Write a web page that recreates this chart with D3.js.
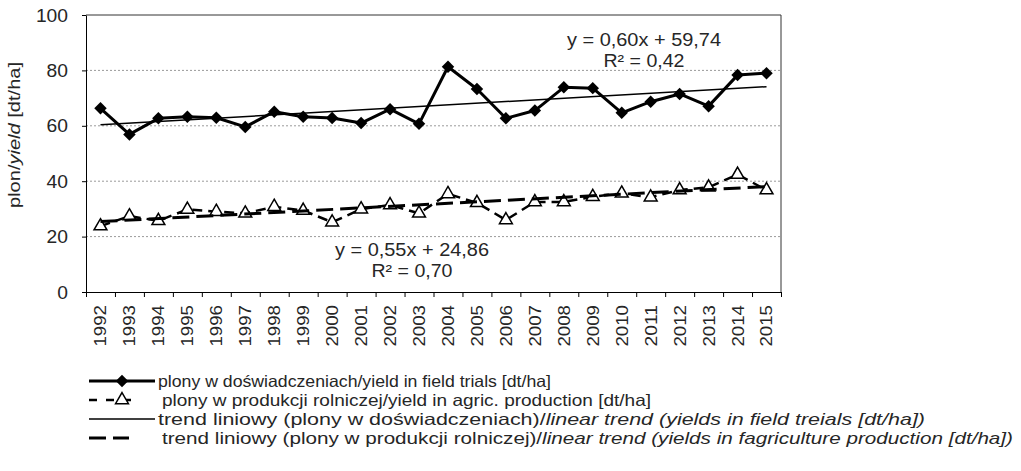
<!DOCTYPE html>
<html>
<head>
<meta charset="utf-8">
<script src="https://cdn.jsdelivr.net/npm/d3@7"></script>
<style>
  body { margin: 0; background: #fff; }
  svg { display: block; font-family: "Liberation Sans", Arial, sans-serif; }
</style>
</head>
<body>
<div id="chart"></div>
<script>
var years = ['1992', '1993', '1994', '1995', '1996', '1997', '1998', '1999', '2000', '2001', '2002', '2003',
    '2004', '2005', '2006', '2007', '2008', '2009', '2010', '2011', '2012', '2013', '2014', '2015'];
var fieldTrials = [66.3, 56.9, 62.7, 63.3, 62.9, 59.6, 65.1, 63.3, 62.8, 61.0, 66.0, 60.7,
    81.3, 73.3, 62.7, 65.5, 73.9, 73.6, 64.7, 68.7, 71.5, 67.1, 78.3, 79.0];
var agricProduction = [23.8, 27.4, 25.7, 29.8, 29.0, 28.4, 30.8, 29.4, 25.2, 29.9, 31.4, 28.4,
    35.4, 32.2, 26.0, 32.5, 32.5, 34.4, 35.6, 34.2, 36.8, 37.8, 42.4, 36.8];
var trendSlope = [0.60, 0.55];
var trendIntercept = [59.74, 24.86];
var equationLabels = [['y = 0,60x + 59,74', 'R\u00b2 = 0,42'], ['y = 0,55x + 24,86', 'R\u00b2 = 0,70']];
var yTicks = [0, 20, 40, 60, 80, 100];
var legendLabels = [
    [['plony w doświadczeniach/yield in field trials [dt/ha]', false]],
    [['plony w produkcji rolniczej/yield in agric. production [dt/ha]', false]],
    [['trend liniowy (plony w doświadczeniach)/', false], ['linear trend (yields in field treials [dt/ha])', true]],
    [['trend liniowy (plony w produkcji rolniczej)/', false], ['linear trend (yields in fagriculture production [dt/ha])', true]]
];

var width = 1021, height = 471,
    margin = {top: 15, left: 86, right: 240, bottom: 179};

var x = d3.scaleBand().domain(years).range([margin.left, width - margin.right]);
var xb = d3.scaleLinear().domain([0, years.length]).range([margin.left, width - margin.right]);
var y = d3.scaleLinear().domain([0, 100]).range([height - margin.bottom, margin.top]);
var cx = function(i) { return x(years[i]) + x.bandwidth() / 2; };

var svg = d3.select('#chart').append('svg')
    .attr('width', width)
    .attr('height', height)
    .attr('fill', '#262626');

// gridlines
svg.append('g')
    .selectAll('line')
    .data(yTicks.filter(function(d) { return d > 0 && d < 100; }))
    .join('line')
        .attr('x1', margin.left).attr('x2', width - margin.right)
        .attr('y1', function(d) { return y(d); }).attr('y2', function(d) { return y(d); })
        .attr('stroke', '#9a9a9a')
        .attr('stroke-dasharray', '2,2');

// plot border (top + right)
svg.append('path')
    .attr('d', 'M' + margin.left + ',' + y(100) + 'H' + (width - margin.right) + 'V' + y(0))
    .attr('fill', 'none')
    .attr('stroke', '#333');

// Y axis
var yAxis = svg.append('g')
    .attr('transform', 'translate(' + margin.left + ',0)')
    .call(d3.axisLeft(y).tickValues(yTicks).tickSize(4).tickPadding(14).tickSizeOuter(0));
yAxis.select('.domain').attr('stroke', '#000');
yAxis.selectAll('text')
    .attr('font-size', 19)
    .attr('fill', '#262626')
    .attr('textLength', function(d) { return String(d).length * 10.7; })
    .attr('lengthAdjust', 'spacingAndGlyphs');

// X axis tick marks on category boundaries
var xTickAxis = svg.append('g')
    .attr('transform', 'translate(0,' + y(0) + ')')
    .call(d3.axisBottom(xb).tickValues(d3.range(years.length + 1)).tickFormat('').tickSize(5).tickSizeOuter(0));
xTickAxis.select('.domain').attr('stroke', '#000');

var xAxis = svg.append('g')
    .attr('transform', 'translate(0,' + y(0) + ')')
    .call(d3.axisBottom(x).tickSize(0));
xAxis.select('.domain').remove();
xAxis.selectAll('text')
    .attr('transform', 'rotate(-90)')
    .attr('x', -13)
    .attr('y', 0)
    .attr('dy', '.35em')
    .attr('text-anchor', 'end')
    .attr('font-size', 17)
    .attr('fill', '#262626')
    .attr('textLength', 41.5)
    .attr('lengthAdjust', 'spacingAndGlyphs');

// y axis title
var yTitle = svg.append('text')
    .attr('transform', 'translate(20,135) rotate(-90)')
    .attr('text-anchor', 'middle')
    .attr('font-size', 17)
    .attr('textLength', 146)
    .attr('lengthAdjust', 'spacingAndGlyphs');
yTitle.append('tspan').text('plon/');
yTitle.append('tspan').attr('font-style', 'italic').text('yield');
yTitle.append('tspan').text(' [dt/ha]');

var line = d3.line()
    .x(function(d, i) { return cx(i); })
    .y(function(d) { return y(d); });

// series lines
svg.append('path')
    .attr('d', line(fieldTrials))
    .attr('fill', 'none')
    .attr('stroke', '#000')
    .attr('stroke-width', 3)
    .attr('stroke-linejoin', 'round');

svg.append('path')
    .attr('d', line(agricProduction))
    .attr('fill', 'none')
    .attr('stroke', '#000')
    .attr('stroke-width', 2.5)
    .attr('stroke-dasharray', '10,6');

var diamond = d3.symbol(d3.symbolSquare, 78)();
var triangle = d3.symbol(d3.symbolTriangle, 72)();

svg.append('g')
    .selectAll('path')
    .data(fieldTrials)
    .join('path')
        .attr('d', diamond)
        .attr('transform', function(d, i) { return 'translate(' + cx(i) + ',' + y(d) + ') rotate(45)'; })
        .attr('fill', '#000');

svg.append('g')
    .selectAll('path')
    .data(agricProduction)
    .join('path')
        .attr('d', triangle)
        .attr('transform', function(d, i) { return 'translate(' + cx(i) + ',' + y(d) + ')'; })
        .attr('fill', '#fff')
        .attr('stroke', '#000')
        .attr('stroke-width', 1.5);

// linear trends
var trendStyles = [{w: 1.5, dash: null}, {w: 3, dash: '17,7'}];
trendSlope.forEach(function(k, s) {
    var pts = [1, years.length].map(function(t) { return [cx(t - 1), y(k * t + trendIntercept[s])]; });
    svg.append('path')
        .attr('d', d3.line()(pts))
        .attr('fill', 'none')
        .attr('stroke', '#000')
        .attr('stroke-width', trendStyles[s].w)
        .attr('stroke-dasharray', trendStyles[s].dash);
});

// trend equations
var eqPos = [{x: 644, y: 40}, {x: 412, y: 250}];
var eqWidth = [154, 81];
equationLabels.forEach(function(lbl, s) {
    lbl.forEach(function(t, j) {
        svg.append('text')
            .attr('x', eqPos[s].x)
            .attr('y', eqPos[s].y + j * 21)
            .attr('dy', '.35em')
            .attr('text-anchor', 'middle')
            .attr('font-size', 18)
            .attr('textLength', eqWidth[j])
            .attr('lengthAdjust', 'spacingAndGlyphs')
            .text(t);
    });
});

// legend
var legY = [381, 400, 419, 438],
    legX = [158, 162, 158, 162],
    legW = [393, 489, 767, 851];
var legend = svg.append('g');

legend.append('line').attr('x1', 89).attr('x2', 155).attr('y1', legY[0]).attr('y2', legY[0])
    .attr('stroke', '#000').attr('stroke-width', 3);
legend.append('path').attr('d', diamond)
    .attr('transform', 'translate(122,' + legY[0] + ') rotate(45)')
    .attr('fill', '#000');

legend.append('line').attr('x1', 89).attr('x2', 137).attr('y1', legY[1]).attr('y2', legY[1])
    .attr('stroke', '#000').attr('stroke-width', 2.5).attr('stroke-dasharray', '8,9');
legend.append('path').attr('d', triangle)
    .attr('transform', 'translate(122,' + legY[1] + ')')
    .attr('fill', '#fff').attr('stroke', '#000').attr('stroke-width', 1.5);

legend.append('line').attr('x1', 89).attr('x2', 155).attr('y1', legY[2]).attr('y2', legY[2])
    .attr('stroke', '#000').attr('stroke-width', 1.5);

legend.append('line').attr('x1', 89).attr('x2', 129).attr('y1', legY[3]).attr('y2', legY[3])
    .attr('stroke', '#000').attr('stroke-width', 3).attr('stroke-dasharray', '17,7');

legendLabels.forEach(function(parts, r) {
    var t = legend.append('text')
        .attr('x', legX[r])
        .attr('y', legY[r])
        .attr('dy', '.35em')
        .attr('font-size', 16.5)
        .attr('textLength', legW[r])
        .attr('lengthAdjust', 'spacingAndGlyphs');
    parts.forEach(function(p) {
        t.append('tspan').attr('font-style', p[1] ? 'italic' : null).text(p[0]);
    });
});
</script>
</body>
</html>
